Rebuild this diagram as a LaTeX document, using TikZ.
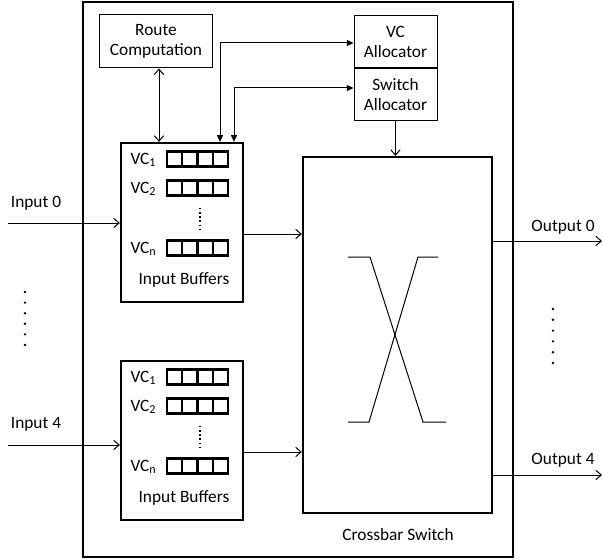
\documentclass[tikz,border=0pt]{standalone}
\usepackage{fontspec}
\setmainfont{Carlito}
\usetikzlibrary{arrows.meta}

\tikzset{every picture/.style={line width=0.75pt}}
\tikzset{
  thinbox/.style={draw, rectangle, inner sep=0pt, align=center},
  thickbox/.style={draw, rectangle, inner sep=0pt, line width=1.75pt},
  cell/.style={line width=1.8pt},
  open/.style={-{Straight Barb[length=4pt,width=7pt]}},
  openboth/.style={{Straight Barb[length=4pt,width=7pt]}-{Straight Barb[length=4pt,width=7pt]}},
  filledboth/.style={{Triangle[length=5pt,width=4.5pt]}-{Triangle[length=5pt,width=4.5pt]}},
  lbl/.style={inner sep=0.75pt}
}

\begin{document}
\begin{tikzpicture}[x=0.75pt,y=0.75pt,yscale=-1,xscale=1,font=\fontsize{13}{15}\selectfont]
	\useasboundingbox (0,0) rectangle (603,560);
	%Shape: Rectangle (router)
	\draw [line width=2pt] (83,2) rectangle (513,557);
	
	%Blocks
	\node [thinbox, minimum width=84.75pt, minimum height=39.75pt] (route) at (156,41.5) {Route\\Computation};
	\node [thinbox, minimum width=62.25pt, minimum height=39pt] (vca) at (395.5,42) {VC\\Allocator};
	\node [thinbox, minimum width=62.25pt, minimum height=38.25pt, anchor=north] (swa) at (vca.south) {Switch\\Allocator};
	\node [thickbox, minimum width=91.5pt, minimum height=119.25pt] (buf0) at (182,222.5) {};
	\node [thickbox, minimum width=91.5pt, minimum height=119.25pt] (buf1) at (182,440.5) {};
	\node [thickbox, minimum width=141.75pt, minimum height=267pt] (xbar) at (397.5,335) {};
	
	%Buffer contents
	\foreach \b/\t in {0/143,1/361}{
		\foreach \r/\s in {16/1,45/2,105/n}{
			\node [lbl, anchor=west] (vc\b\s) at (129,\t+\r+1) {VC\textsubscript{\s}};
			\foreach \c in {0,...,3}
				\draw [cell] (167+15.25*\c,\t+\r-7.5) rectangle ++(15.25,15);
		}
		\draw [dotted, line width=1.1pt] (200,\t+65) -- (200,\t+88);
		\node [lbl] (ib\b) at (184,\t+137) {Input Buffers};
	}
	
	%Crossbar
	\draw (348,257) -- (370,257) -- (423,422) -- (446,422);
	\draw (438,257) -- (418,257) -- (369,422) -- (348,422);
	\node [lbl] (xlbl) at (398,535) {Crossbar Switch};
	
	%Ports
	\coordinate (in0) at (8,223);
	\coordinate (in4) at (8,445);
	\coordinate (out0) at (602,241);
	\coordinate (out4) at (602,475);
	\coordinate (b0o) at (243,234);
	\coordinate (b1o) at (243,452);
	
	%Connectors
	\draw [open] (in0) -- (in0 -| buf0.west);
	\draw [open] (in4) -- (in4 -| buf1.west);
	\draw [open] (b0o) -- (b0o -| xbar.west);
	\draw [open] (b1o) -- (b1o -| xbar.west);
	\draw [open] (out0 -| xbar.east) -- (out0);
	\draw [open] (out4 -| xbar.east) -- (out4);
	\draw [openboth] (route.south -| 159,0) -- (buf0.north -| 159,0);
	\draw [filledboth] (buf0.north -| 220,0) |- (vca.west |- 0,43);
	\draw [filledboth] (buf0.north -| 234,0) |- (swa.west |- 0,88);
	\draw [open] (swa.south) -- (swa.south |- xbar.north);
	
	% Text Node
	\node [lbl] (lin0) at (36,203) {Input 0};
	% Text Node
	\node [lbl] (lin4) at (36,424) {Input 4};
	% Text Node
	\node [lbl] (lout0) at (563,227) {Output 0};
	% Text Node
	\node [lbl] (lout4) at (563,460) {Output 4};
	
	%Dots
	\foreach \y in {292,302.6,313.2,323.8,334.4,345}
		\fill (25,\y) circle (1pt);
	\foreach \y in {309,319.8,330.6,341.4,352.2,363}
		\fill (553,\y) circle (1pt);
\end{tikzpicture}
\end{document}
